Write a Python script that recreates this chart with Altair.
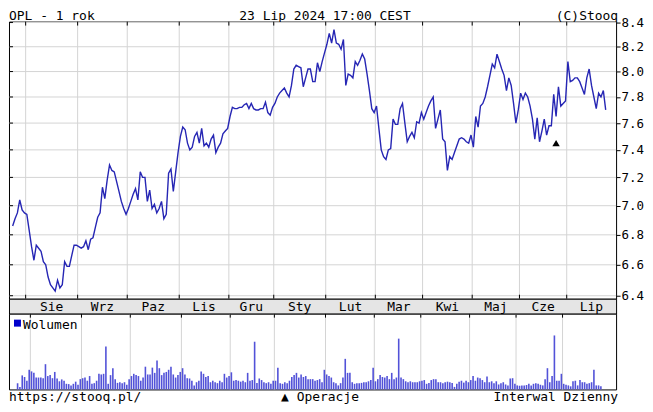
import altair as alt
import pandas as pd

# ---------------- data ----------------
price = [
    6.86, 6.91, 6.95, 7.04, 6.97, 6.95, 6.94, 6.83, 6.72, 6.63,
    6.73, 6.71, 6.69, 6.62, 6.60, 6.52, 6.47, 6.45, 6.43, 6.50,
    6.45, 6.47, 6.62, 6.59, 6.59, 6.66, 6.73, 6.73, 6.72, 6.71,
    6.72, 6.76, 6.70, 6.77, 6.78, 6.85, 6.92, 6.95, 7.13, 7.05,
    7.18, 7.29, 7.25, 7.24, 7.17, 7.10, 7.03, 6.98, 6.94, 6.98,
    7.03, 7.08, 7.12, 7.04, 7.24, 7.20, 7.20, 7.03, 7.11, 6.98,
    7.01, 6.95, 6.98, 7.03, 6.91, 6.94, 7.23, 7.26, 7.10, 7.24,
    7.38, 7.50, 7.57, 7.55, 7.45, 7.40, 7.42, 7.50, 7.53, 7.45,
    7.56, 7.43, 7.45, 7.42, 7.48, 7.51, 7.38, 7.42, 7.45, 7.52,
    7.54, 7.56, 7.65, 7.72, 7.71, 7.71, 7.72, 7.72, 7.74, 7.75,
    7.71, 7.75, 7.71, 7.70, 7.70, 7.71, 7.71, 7.76, 7.68, 7.66,
    7.72, 7.75, 7.80, 7.83, 7.85, 7.87, 7.83, 7.80, 7.89, 8.02,
    8.05, 8.04, 8.03, 7.88, 7.95, 8.02, 8.02, 7.92, 7.92, 8.07,
    8.00, 8.08, 8.15, 8.22, 8.31, 8.23, 8.34, 8.23, 8.22, 8.18,
    8.26, 7.89, 7.98, 7.97, 7.95, 8.08, 8.05, 8.09, 8.14, 8.10,
    7.98, 7.85, 7.71, 7.68, 7.73, 7.56, 7.40, 7.35, 7.33, 7.40,
    7.41, 7.63, 7.59, 7.59, 7.71, 7.75, 7.60, 7.46, 7.50, 7.53,
    7.49, 7.61, 7.60, 7.68, 7.63, 7.68, 7.73, 7.77, 7.80, 7.56,
    7.63, 7.70, 7.48, 7.46, 7.25, 7.35, 7.33, 7.38, 7.43, 7.48,
    7.49, 7.48, 7.46, 7.45, 7.51, 7.42, 7.65, 7.57, 7.73, 7.75,
    7.80, 7.88, 7.97, 8.06, 8.03, 8.14, 8.08, 8.02, 7.97, 7.85,
    7.95, 7.89, 7.75, 7.60, 7.70, 7.83, 7.78, 7.83, 7.80, 7.73,
    7.63, 7.48, 7.64, 7.46, 7.54, 7.63, 7.51, 7.58, 7.58, 7.82,
    7.65, 7.88, 7.73, 7.75, 7.77, 8.08, 7.92, 7.93, 7.95, 7.95,
    7.92, 7.87, 7.82, 7.95, 8.02, 7.89, 7.80, 7.71, 7.83, 7.80,
    7.85, 7.70,
]

# volume, in units of 100k shares
volume = [
    6.7, 2.7, 15, 13.3, 9.3, 21, 19.3, 17.7, 12.7, 12.7,
    12.7, 12, 27, 14.3, 15.3, 12, 18.7, 11.7, 8.7, 10.7,
    9.3, 6, 5.7, 4.3, 6, 8.3, 5, 11, 12, 12.7,
    9.3, 14.3, 6, 6.7, 9.3, 16.7, 16, 16.7, 46, 6,
    15.3, 22.7, 11, 7, 7.7, 6.7, 7.7, 5, 11, 14.3,
    16.7, 15.3, 14.3, 9.3, 12.7, 24.3, 16, 16, 23.3, 17.7,
    31, 22.7, 15.3, 17.7, 18.7, 21, 24.3, 16, 12.7, 15.3,
    18.7, 22.7, 16, 12, 11.7, 9.3, 4.3, 7.7, 9.3, 19.3,
    16.7, 13.3, 14.3, 7.7, 9.3, 7.7, 6.7, 9.3, 7.7, 16.7,
    12.7, 14.3, 18.3, 9.3, 10, 9.3, 8.3, 9.3, 7.7, 17.7,
    9.3, 10, 51, 7, 11.7, 10, 7.7, 6.7, 7.7, 6,
    9.3, 9.3, 23.3, 6.7, 6, 7.7, 6.7, 9.3, 13.3, 15.3,
    17.7, 12.7, 16, 13.3, 14.3, 11, 11, 11, 9.3, 10,
    11, 7.7, 21, 16, 14.3, 12.7, 7.7, 6.7, 4.3, 6.7,
    12.7, 32.7, 17.7, 17.7, 7.7, 6, 6.7, 6.7, 7, 7.7,
    7.7, 8.7, 10, 23.3, 8.7, 11, 15.3, 13.3, 12.7, 14.3,
    11, 17.7, 11, 12.7, 54.3, 12.7, 11, 8.7, 7.7, 8.7,
    7.7, 7.7, 7.7, 8.7, 9.3, 10, 6, 7, 10, 11,
    11, 7.7, 7.7, 6.7, 7.7, 8.3, 7.7, 7, 2.7, 6,
    8.3, 9.3, 7.3, 9.3, 7.7, 10, 14.3, 9.3, 12.7, 12,
    10, 7.7, 13.7, 7.7, 8.7, 6.7, 8.7, 5.3, 6.7, 7.7,
    5.3, 4.3, 11.7, 12, 6, 4.3, 4, 4.3, 4.3, 4.7,
    6, 4.3, 6, 6.7, 6, 5, 4.3, 11, 22.7, 7.7,
    14.3, 57.7, 9.3, 9.3, 16.7, 6, 5, 4.3, 3.3, 8.7,
    9.3, 4.3, 10, 7.7, 7.7, 6, 6.7, 7.7, 21, 4.3,
    4.3, 3.3,
]

# month boundaries, in trading-day index units
month_bounds = [5.5, 27.5, 48.5, 70.5, 91.5, 110.5, 132.5, 153.5, 173.5, 194.5, 214.5, 234.5]
month_labels = ["Sie", "Wrz", "Paz", "Lis", "Gru", "Sty", "Lut", "Mar", "Kwi", "Maj", "Cze", "Lip"]
price_ticks = [6.4, 6.6, 6.8, 7.0, 7.2, 7.4, 7.6, 7.8, 8.0, 8.2, 8.4]
event_index = [230]
event_price = [7.45]

header_left = "OPL - 1 rok"
header_mid = "23 Lip 2024 17:00 CEST"
header_right = "(C)Stooq"
footer_left = "https://stooq.pl/"
footer_mid = "▲ Operacje"
footer_right = "Interwal Dzienny"
legend_label = "Wolumen"

# ---------------- layout / style ----------------
X_DOMAIN = [-1.55, 255.4]
Y_DOMAIN = [6.381, 8.408]
V_DOMAIN = [0, 81]
W = 609
H_HEAD, H_PRICE, H_BAND, H_VOL, H_FOOT = 12, 278, 15, 76, 15
FONT = "DejaVu Sans Mono"
GRID = "#d4d4d4"
LINE = "#2626b4"
BAR = "#5252d8"

df = pd.DataFrame({"i": list(range(len(price))), "price": price, "vol": volume})
mb = pd.DataFrame({"b": month_bounds})
ends = month_bounds[1:] + [X_DOMAIN[1]]
ml = pd.DataFrame({"m": [(a + b) / 2 for a, b in zip(month_bounds, ends)], "label": month_labels})
pt = pd.DataFrame({"p": price_ticks})
ev = pd.DataFrame({"i": event_index, "price": event_price})

xs = alt.Scale(domain=X_DOMAIN, nice=False, zero=False)
ys = alt.Scale(type="log", domain=Y_DOMAIN, nice=False, zero=False)
vs = alt.Scale(domain=V_DOMAIN, nice=False, zero=True)
yaxis = alt.Axis(orient="right", values=price_ticks, format=".1f", grid=False, domain=False,
                 ticks=True, tickColor="black", tickSize=4, tickWidth=1,
                 labelFont=FONT, labelFontSize=12.5, labelColor="black", labelPadding=1,
                 labelOverlap=False, labelFlush=False, title=None)
X = lambda f: alt.X(f, scale=xs, axis=None)


def text_layer(txt, x, y, align, size=13):
    return alt.Chart(pd.DataFrame({"t": [txt]})).mark_text(
        align=align, baseline="alphabetic", font=FONT, fontSize=size, color="black"
    ).encode(x=alt.value(x), y=alt.value(y), text="t:N")


# header
header = alt.layer(
    text_layer(header_left, 0, 10, "left"),
    text_layer(header_mid, 317, 10, "center"),
    text_layer(header_right, 611, 10, "right"),
).properties(width=W, height=H_HEAD, view=alt.ViewBackground(stroke="transparent"))

# price panel
vgrid = alt.Chart(mb).mark_rule(color=GRID, strokeWidth=1).encode(x=X("b:Q"))
hgrid = alt.Chart(pt).mark_rule(color=GRID, strokeWidth=1).encode(y=alt.Y("p:Q", scale=ys, axis=yaxis))
tick_top = alt.Chart(mb).mark_rule(color="black").encode(x=X("b:Q"), y=alt.value(0), y2=alt.value(4))
tick_bot = alt.Chart(mb).mark_rule(color="black").encode(x=X("b:Q"), y=alt.value(H_PRICE - 4), y2=alt.value(H_PRICE))
tick_left = alt.Chart(pt).mark_rule(color="black").encode(
    y=alt.Y("p:Q", scale=ys, axis=yaxis), x=alt.value(0), x2=alt.value(4))
line = alt.Chart(df).mark_line(color=LINE, strokeWidth=1.4).encode(
    x=X("i:Q"), y=alt.Y("price:Q", scale=ys, axis=yaxis))
event = alt.Chart(ev).mark_point(shape="triangle-up", filled=True, color="black", size=55, opacity=1).encode(
    x=X("i:Q"), y=alt.Y("price:Q", scale=ys, axis=yaxis))
price_panel = alt.layer(vgrid, hgrid, tick_top, tick_bot, tick_left, line, event).properties(
    width=W, height=H_PRICE, view=alt.ViewBackground(stroke="black", fill="white"))

# month band
band = alt.Chart(ml).mark_text(font=FONT, fontSize=13, color="black", baseline="middle").encode(
    x=X("m:Q"), y=alt.value(H_BAND / 2 + 0.5), text="label:N"
).properties(width=W, height=H_BAND, view=alt.ViewBackground(fill="#e5e5e5", stroke="black"))

# volume panel
vol_grid = alt.Chart(mb).mark_rule(color=GRID, strokeWidth=1).encode(x=X("b:Q"))
vol_ticks = alt.Chart(mb).mark_rule(color="black").encode(x=X("b:Q"), y=alt.value(0), y2=alt.value(4))
bars = alt.Chart(df).mark_bar(color=BAR, size=1.6).encode(
    x=X("i:Q"), y=alt.Y("vol:Q", scale=vs, axis=None))
legend_sq = alt.Chart(pd.DataFrame({"a": [0]})).mark_rect(color="#0000cc").encode(
    x=alt.value(5), x2=alt.value(12), y=alt.value(6), y2=alt.value(13))
legend_txt = text_layer(legend_label, 14, 15, "left")
vol_panel = alt.layer(vol_grid, vol_ticks, bars, legend_sq, legend_txt).properties(
    width=W, height=H_VOL, view=alt.ViewBackground(stroke="black", fill="white"))

# footer
footer = alt.layer(
    text_layer(footer_left, 0, 12, "left"),
    text_layer(footer_mid, 312, 12, "center"),
    text_layer(footer_right, 611, 12, "right"),
).properties(width=W, height=H_FOOT, view=alt.ViewBackground(stroke="transparent"))

chart = alt.vconcat(
    header, price_panel, band, vol_panel, footer, spacing=0, bounds="flush"
).resolve_scale(x="independent", y="independent").properties(
    padding=0, background="white"
).configure(font=FONT).configure_view(stroke="black", strokeWidth=1)

chart.save("out.html", embed_options={"renderer": "svg", "actions": False})
